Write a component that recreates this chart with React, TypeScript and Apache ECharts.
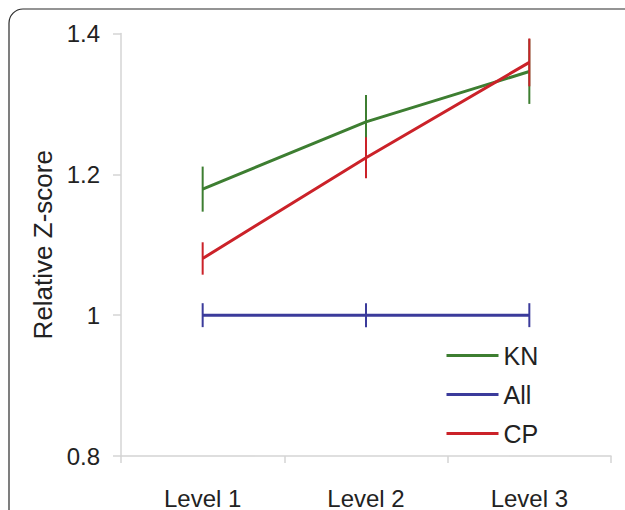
import React, { useEffect, useRef } from "react";
import * as echarts from "echarts";

const categories = ["Level 1", "Level 2", "Level 3"];
const seriesNames = ["KN", "All", "CP"];
const knValues = [1.179, 1.2745, 1.346];
const knErrors = [0.032, 0.038, 0.046];
const allValues = [1.0, 1.0, 1.0];
const allErrors = [0.017, 0.017, 0.017];
const cpValues = [1.0805, 1.2235, 1.359];
const cpErrors = [0.023, 0.029, 0.034];
const yTicks = [0.8, 1.0, 1.2, 1.4];

const colors = { KN: "#3d7e31", All: "#3b3b9b", CP: "#cb2229" };
const FONT = "'Liberation Sans', Arial, Helvetica, sans-serif";

function errorSeries(name: string, values: number[], errors: number[], color: string, z: number) {
  return {
    type: "custom",
    name: name + " error",
    z,
    data: values.map((v, i) => [i, v - errors[i], v + errors[i]]),
    renderItem: (params: any, api: any) => {
      const lo = api.coord([api.value(0), api.value(1)]);
      const hi = api.coord([api.value(0), api.value(2)]);
      return {
        type: "line",
        shape: { x1: lo[0], y1: lo[1], x2: hi[0], y2: hi[1] },
        style: { stroke: color, lineWidth: 2 },
      };
    },
    silent: true,
  };
}

function lineSeries(name: string, values: number[], color: string, z: number) {
  return {
    type: "line",
    name,
    z,
    data: values,
    symbol: "none",
    lineStyle: { color, width: 3 },
    itemStyle: { color },
    silent: true,
  };
}

export default function App() {
  const ref = useRef<HTMLDivElement>(null);
  useEffect(() => {
    if (!ref.current) return;
    const chart = echarts.init(ref.current, null, { renderer: "svg" });
    chart.setOption({
      animation: false,
      backgroundColor: "#ffffff",
      textStyle: { fontFamily: FONT },
      grid: { left: 121, right: 14, top: 33.5, bottom: 49, containLabel: false },
      graphic: [
        {
          type: "rect",
          shape: { x: 9, y: 9, width: 700, height: 600, r: 14 },
          style: { fill: "none", stroke: "#2a2a2a", lineWidth: 1.2 },
          silent: true,
          z: -1,
        },
      ],
      legend: {
        orient: "vertical",
        left: 441.5,
        top: 338,
        itemWidth: 52,
        itemHeight: 3,
        itemGap: 14,
        icon: "rect",
        data: seriesNames,
        textStyle: { fontSize: 25, color: "#222", fontFamily: FONT },
      },
      xAxis: {
        type: "category",
        data: categories,
        boundaryGap: true,
        axisLine: { lineStyle: { color: "#d4d4d4", width: 1.5 } },
        axisTick: { show: true, length: 7, lineStyle: { color: "#d4d4d4", width: 1.5 } },
        axisLabel: { fontSize: 24, color: "#222", margin: 30, fontFamily: FONT },
        splitLine: { show: false },
      },
      yAxis: {
        type: "value",
        min: yTicks[0],
        max: yTicks[yTicks.length - 1],
        interval: 0.2,
        name: "Relative Z-score",
        nameLocation: "middle",
        nameGap: 64,
        nameTextStyle: { fontSize: 26, color: "#222", fontFamily: FONT },
        axisLine: { show: true, lineStyle: { color: "#d4d4d4", width: 1.5 } },
        axisTick: { show: true, length: 8, lineStyle: { color: "#d4d4d4", width: 1.5 } },
        axisLabel: {
          fontSize: 24,
          color: "#222",
          margin: 21,
          fontFamily: FONT,
          formatter: (v: number) => String(Math.round(v * 10) / 10),
        },
        splitLine: { show: false },
      },
      series: [
        lineSeries("KN", knValues, colors.KN, 2),
        errorSeries("KN", knValues, knErrors, colors.KN, 3),
        lineSeries("All", allValues, colors.All, 4),
        errorSeries("All", allValues, allErrors, colors.All, 5),
        lineSeries("CP", cpValues, colors.CP, 6),
        errorSeries("CP", cpValues, cpErrors, colors.CP, 7),
      ],
    });
    return () => chart.dispose();
  }, []);
  return (
    <div
      ref={ref}
      style={{ position: "fixed", left: 0, top: 0, width: 625, height: 510 }}
    />
  );
}
